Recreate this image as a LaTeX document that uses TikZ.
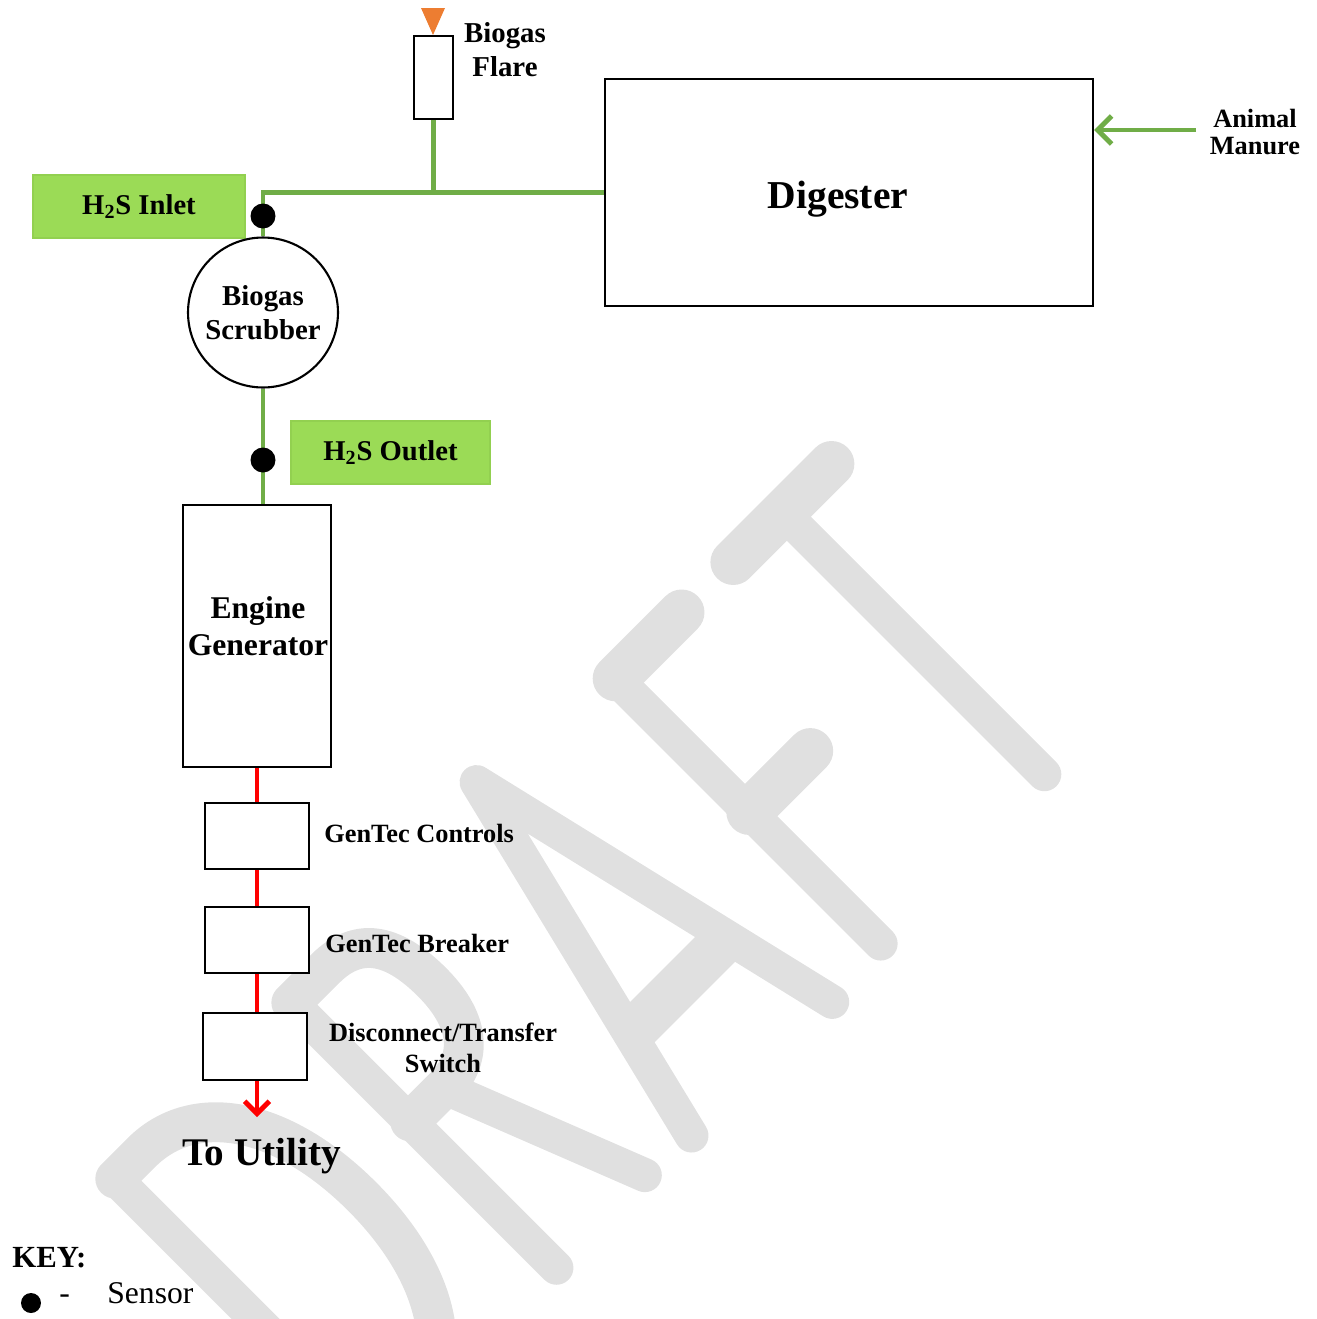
\documentclass[tikz,border=0pt]{standalone}
\usepackage{fontspec}
\setmainfont{Liberation Serif}
\usetikzlibrary{arrows.meta}
\definecolor{gasgreen}{RGB}{112,173,71}
\definecolor{tagfill}{RGB}{155,219,86}
\definecolor{tagedge}{RGB}{146,208,80}
\definecolor{flareorange}{RGB}{237,125,49}
\definecolor{wmgray}{RGB}{224,224,224}
\newcommand{\setfs}[2]{\fontsize{#1}{#2}\selectfont}
\begin{document}
\begin{tikzpicture}[x=0.02cm,y=-0.02cm,
  box/.style={draw=black, line width=1.3pt, fill=white, inner sep=0pt, rectangle},
  gas/.style={draw=gasgreen, line width=2.8pt},
  power/.style={draw=red, line width=2.8pt},
  sensor/.style={circle, fill=black, inner sep=0pt, minimum size=0.5cm},
  tag/.style={fill=tagfill, draw=tagedge, line width=1.5pt, inner sep=0pt, font=\setfs{16.3}{19}\bfseries},
  lbl/.style={inner sep=0pt},
  lbltwo/.style={inner sep=0pt, align=center},
  wm/.style={draw=wmgray, line cap=round, line join=round},
  wmv/.style={wm, line width=19.3pt},
  wmh/.style={wm, line width=26pt},
  wmc/.style={wm, line width=22.7pt}
]
\useasboundingbox (0,0) rectangle (1316,1319);

% ---------- DRAFT watermark ----------
\begin{scope}
\clip (0,0) rectangle (1316,1319);
\begin{scope}[x={(0.014142cm,0.014142cm)}, y={(-0.014142cm,0.014142cm)}]
  % D
  \draw[wmv] (-752,-915) -- (-752,-1290);
  \draw[wmc] (-752,-915) -- (-715,-915) .. controls (-640,-915) and (-590,-990) .. (-590,-1102)
        .. controls (-590,-1214) and (-640,-1290) .. (-715,-1290) -- (-752,-1290);
  % R
  \draw[wmv] (-503,-915) -- (-503,-1290);
  \draw[wmc] (-503,-915) -- (-455,-915) .. controls (-405,-915) and (-389,-950) .. (-389,-1000)
        .. controls (-389,-1050) and (-410,-1083) .. (-455,-1083) -- (-503,-1083);
  \draw[wmv] (-455,-1083) -- (-375,-1287);
  % A
  \draw[wmv] (-314,-1292) -- (-216,-890) -- (-120,-1297);
  \draw[wmh, line cap=butt] (-286,-1177) -- (-148,-1177);
  % F
  \draw[wmv] (-44.5,-915) -- (-44.5,-1290);
  \draw[wmh] (-44.5,-915) -- (49,-915);
  \draw[wmh] (-44.5,-1104) -- (42,-1104);
  % T
  \draw[wmh] (121,-916) -- (260,-916);
  \draw[wmv] (191,-916) -- (191,-1286);
\end{scope}
\end{scope}

% ---------- boxes ----------
\node[box, minimum width=0.78cm, minimum height=1.66cm] (flare) at (433.5,77.5) {};
\fill[flareorange] (421,8) -- (445,8) -- (433,35) -- cycle;
\node[lbltwo, font=\setfs{16.4}{19.3}\bfseries] (flaretext) at (505,50) {Biogas\\Flare};

\node[box, minimum width=9.76cm, minimum height=4.54cm] (digester) at (849,192.5) {};
\node[lbl, anchor=base, font=\setfs{22.5}{27}\bfseries] (digtext) at (838,208) {Digester};

\node[lbltwo, font=\setfs{15}{15.9}\bfseries] (manure) at (1255,132) {Animal\\Manure};
\coordinate (manuresrc) at (1196,130);

\node[tag, minimum width=4.24cm, minimum height=1.26cm] (inlet) at (139,206.5) {H\textsubscript{2}S Inlet};
\node[box, circle, line width=1.2pt, minimum size=3cm, align=center, font=\setfs{16.4}{19.3}\bfseries] (scrubber) at (263,312.5) {Biogas\\Scrubber};
\node[tag, minimum width=3.98cm, minimum height=1.26cm] (outlet) at (390.5,452.5) {H\textsubscript{2}S Outlet};

\node[box, minimum width=2.96cm, minimum height=5.24cm] (engine) at (257,636) {};
\node[lbltwo, font=\setfs{18}{21}\bfseries] (enginetext) at (258,626) {Engine\\Generator};

\node[box, minimum width=2.08cm, minimum height=1.32cm] (controls) at (257,836) {};
\node[box, minimum width=2.08cm, minimum height=1.32cm] (breaker) at (257,940) {};
\node[box, minimum width=2.08cm, minimum height=1.34cm] (switch) at (255,1046.5) {};
\node[lbl, anchor=base west, font=\setfs{15}{18}\bfseries] (controlstext) at (324,842) {GenTec Controls};
\node[lbl, anchor=base west, font=\setfs{15}{18}\bfseries] (breakertext) at (325,952) {GenTec Breaker};
\node[lbltwo, font=\setfs{15}{17.6}\bfseries] (switchtext) at (443,1048) {Disconnect/Transfer\\Switch};

\coordinate (utilarrow) at (257,1117);
\node[lbl, anchor=base, font=\setfs{22.3}{26}\bfseries] (utility) at (261.5,1165) {To Utility};

% ---------- gas lines ----------
\draw[gas] (flare.south) -- (flare.south |- digester.west);
\draw[gas] (digester.west) -| (scrubber.north);
\draw[gas] (scrubber.south) -- (scrubber.south |- engine.north);
\draw[gas, -{Straight Barb[length=8pt,width=16pt]}] (manuresrc) -- (manuresrc -| digester.east);

\node[sensor] (sensorin) at (263,216) {};
\node[sensor] (sensorout) at (263,460) {};

% ---------- power lines ----------
\draw[power] (engine.south) -- (controls.north);
\draw[power] (controls.south) -- (breaker.north);
\draw[power] (breaker.south) -- (breaker.south |- switch.north);
\draw[power, -{Straight Barb[length=7pt,width=14pt]}] (switch.south -| utilarrow) -- (utilarrow);

% ---------- key ----------
\node[lbl, anchor=base west, font=\setfs{17.5}{21}\bfseries] (key) at (12,1267) {KEY:};
\node[sensor, minimum size=0.4cm] (keydot) at (31,1303) {};
\node[lbl, anchor=base west, font=\setfs{18}{21}] (keydash) at (59,1303) {-};
\node[lbl, anchor=base west, font=\setfs{18}{21}] (keysensor) at (107,1303) {Sensor};
\end{tikzpicture}
\end{document}
